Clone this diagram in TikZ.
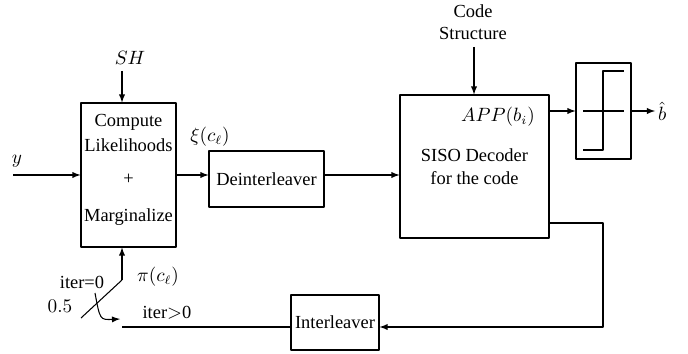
\documentclass[tikz,border=0pt]{standalone}
\usepackage{fontspec}
\setmainfont{Liberation Serif}
\begin{document}
\begin{tikzpicture}[x=0.02cm, y=-0.02cm, font=\fontsize{10.5}{12.6}\selectfont, line join=round, >=latex, line width=0.6pt]
\tikzset{blk/.style={draw, inner sep=0pt, align=center}}
\useasboundingbox (0,0) rectangle (688,354);
% blocks
\node[blk, minimum width=1.9cm, minimum height=2.88cm] (comp) at (128.5,175) {};
\node (t1) at (128.5,122) {Compute};
\node (t2) at (128.5,145) {Likelihoods};
\node (t3) at (128.5,179) {+};
\node (t4) at (128.5,217) {Marginalize};
\node[blk, minimum width=2.3cm, minimum height=1.12cm] (deint) at (266.5,179) {Deinterleaver};
\node[blk, minimum width=2.98cm, minimum height=2.86cm] (siso) at (474.5,166.5) {};
\node (s1) at (474.5,155) {SISO Decoder};
\node (s2) at (474.5,178) {for the code};
\node (app) at (498,117) {$APP(b_i)$};
\node[blk, minimum width=1.1cm, minimum height=1.92cm] (lim) at (603.5,111) {};
\node[blk, minimum width=1.76cm, minimum height=1.1cm] (intl) at (335,322.5) {Interleaver};
\node[align=center] (cs) at (473,22) {Code\\[-0.4pt]Structure};
% inputs
\coordinate (yin) at (13,175);
\coordinate (sh) at (122,71);
\coordinate (csa) at (474,47);
\node (yl) at (17,161) {$y$};
\node (shl) at (130,58) {$SH$};
\draw[->] (yin) -- (comp.west);
\draw[->] (sh) -- (sh |- comp.north);
\draw[->] (csa) -- (csa |- siso.north);
% forward path
\node (xi) at (210,137) {$\xi(c_\ell)$};
\draw[->] (comp.east) -- (comp.east -| deint.west);
\draw[->] (deint.east |- comp.east) -- (siso.west |- comp.east);
\draw[->] (lim.west -| siso.east) -- (lim.west);
\coordinate (bout) at (655,111);
\draw[->] (lim.east) -- (bout);
\node[right, inner sep=1.5pt] (bh) at (bout) {$\hat{b}$};
\draw (583,111) -- (624,111);
\draw (583,150) -- (603,150) -- (603,71) -- (624,71);
% feedback
\coordinate (fb) at (603,223);
\coordinate (fbl) at (603,327);
\draw[->] (fb -| siso.east) -- (fb) -- (fbl) -- (fbl -| intl.east);
\coordinate (sw) at (122,327);
\draw (fbl -| intl.west) -- (sw);
% switch
\coordinate (pi) at (122,280);
\coordinate (s0) at (81,318);
\coordinate (c1) at (95,293);
\coordinate (c2) at (120,319);
\draw[->] (pi) -- (pi |- comp.south);
\draw (pi) -- (s0);
\draw[->] (c1) .. controls (100,320) .. (c2);
\node (it0) at (82,282) {iter=0};
\node (half) at (60,306) {$0.5$};
\node (pil) at (158,277) {$\pi(c_\ell)$};
\node (it1) at (167,313) {iter$>$0};
\end{tikzpicture}
\end{document}
